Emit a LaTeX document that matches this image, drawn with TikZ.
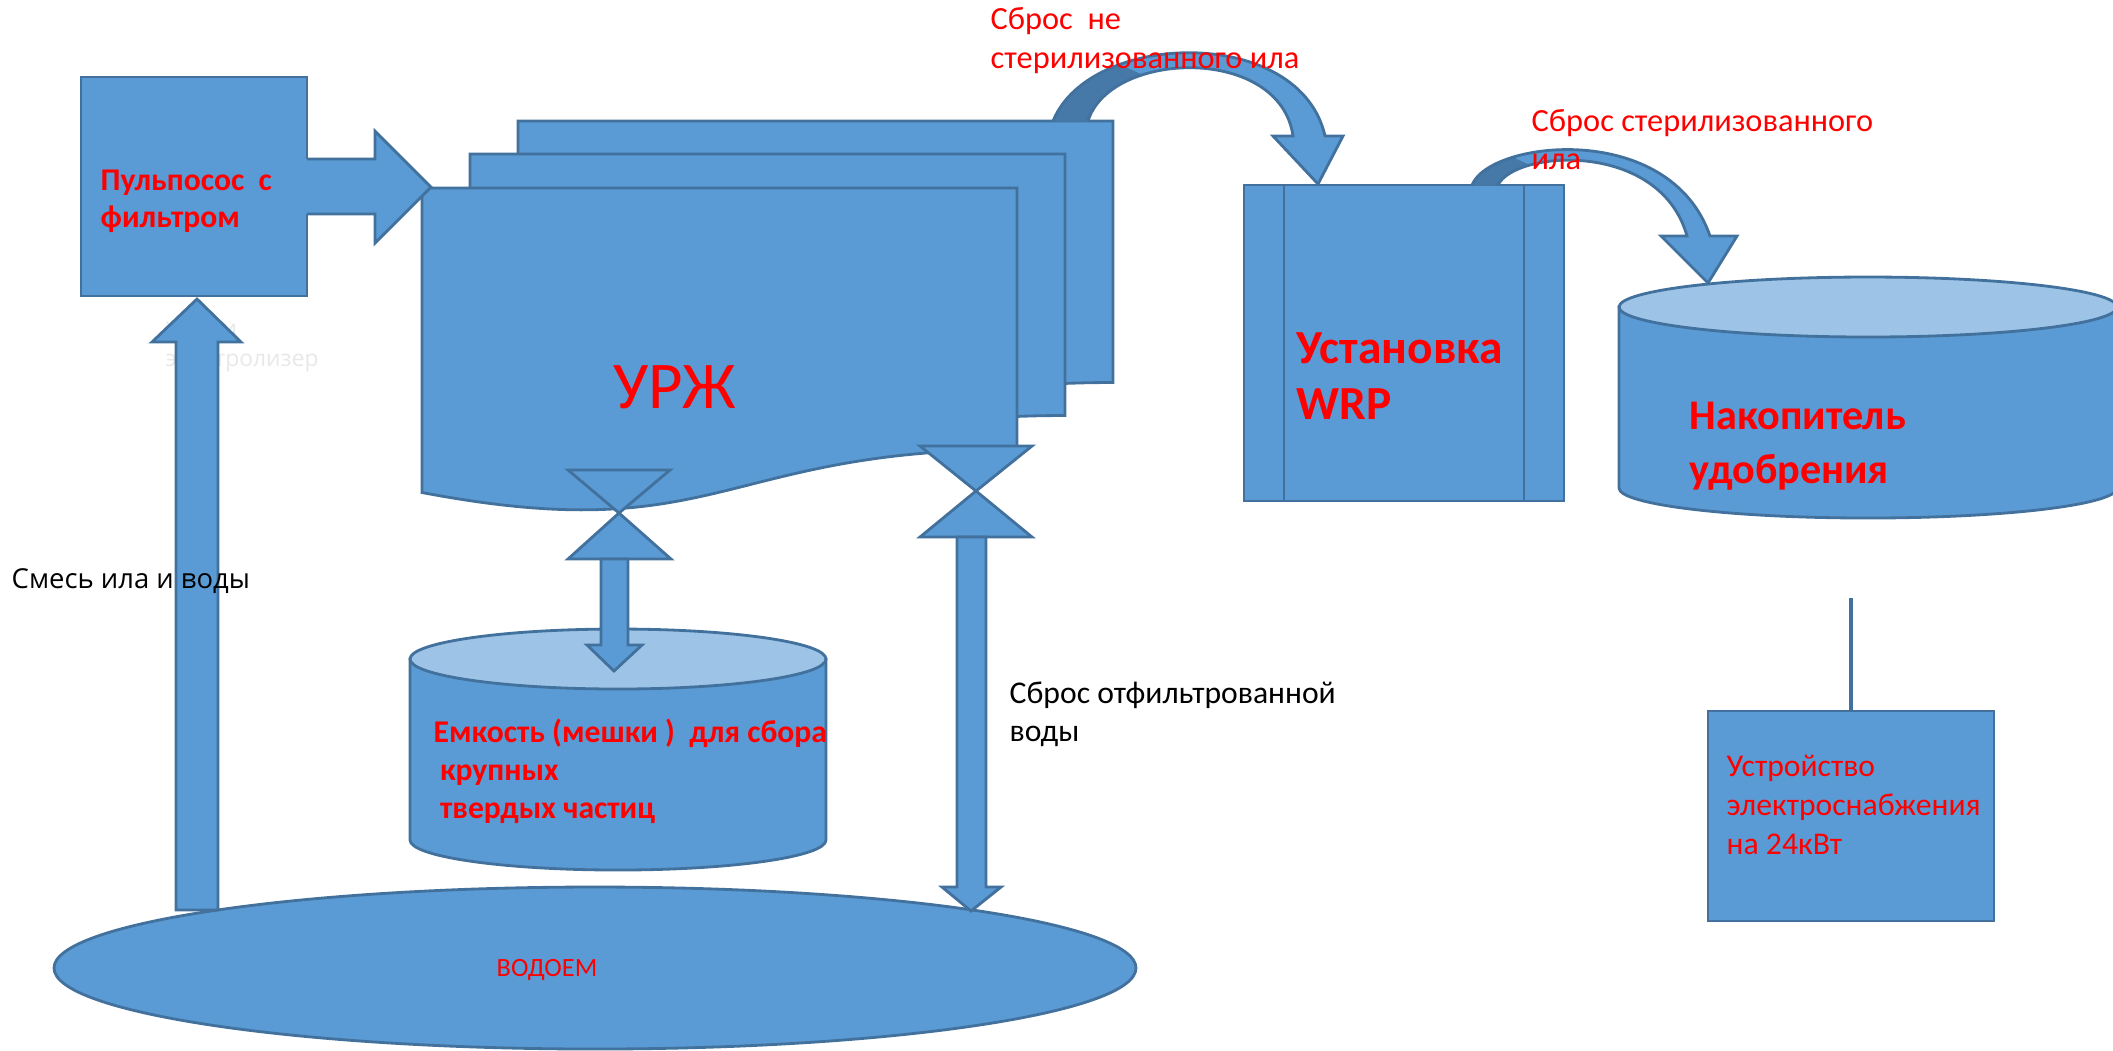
\documentclass[tikz,border=0pt]{standalone}
\usepackage{fontspec}
\setmainfont{Carlito}
\newfontfamily\widesans{Open Sans}
\definecolor{boxblue}{RGB}{91,155,213}
\definecolor{edgeblue}{RGB}{65,113,156}
\definecolor{lidblue}{RGB}{157,195,230}
\definecolor{shadeblue}{RGB}{70,121,168}
\definecolor{textred}{RGB}{255,0,0}
% one sheet of the stacked document shape, top left corner at (#1,#2)
\newcommand{\docpage}[2]{%
  \draw[blockfill] (#1,#2) -- ({#1+595},#2) -- ({#1+595},{#2+261.5})
    .. controls ({#1+297.5},{#2+261.5}) and ({#1+297.5},{#2+360.9}) .. (#1,{#2+304.5}) -- cycle;}
\begin{document}
\begin{tikzpicture}[x=0.01cm,y=-0.01cm,
    blockfill/.style={fill=boxblue,draw=edgeblue,line width=0.8pt},
    lidfill/.style={fill=lidblue,draw=edgeblue,line width=0.8pt},
    redlbl/.style={inner sep=0pt,anchor=west,align=left,text=textred},
    blacklbl/.style={inner sep=0pt,anchor=west,align=left,text=black}]
  \clip (0,0) rectangle (2113,1050);

  % faint text hidden behind the up arrow
  \node[blacklbl,text=black!9,font=\widesans\fontsize{6.5}{8}\selectfont] (ghost) at (165,363) {электролизер};
  \node[blacklbl,text=black!9,font=\widesans\fontsize{6.5}{8}\selectfont] (ghostu) at (165,330) {У};
  \node[blacklbl,text=black!9,font=\widesans\fontsize{6.5}{8}\selectfont] (ghosti) at (222,330) {и};

  % pond
  \draw[blockfill] (595,968) ellipse [x radius=541, y radius=81];

  % bag tank
  \draw[blockfill] (410,659) -- (410,840) arc [start angle=180, end angle=0, x radius=208, y radius=30] -- (826,659) -- cycle;
  \draw[lidfill] (618,659) ellipse [x radius=208, y radius=30];

  % fertiliser store
  \draw[blockfill] (1619,307) -- (1619,488) arc [start angle=180, end angle=0, x radius=249, y radius=30] -- (2117,307) -- cycle;
  \draw[lidfill] (1868,307) ellipse [x radius=249, y radius=30];

  % power supply
  \draw[blockfill] (1708,711) rectangle (1994,921);
  \draw[edgeblue,line width=1pt] (1851,598) -- (1851,711);

  % WRP unit
  \draw[blockfill] (1244,185) rectangle (1564,501);
  \draw[edgeblue,line width=0.8pt] (1284,185) -- (1284,501) (1524,185) -- (1524,501);

  % stacked URZh sheets
  \docpage{518}{121}
  \docpage{470}{154}
  \docpage{422}{188}

  % curved arrow URZh -> WRP
  \fill[boxblue] (1053,121) .. controls (1090,30) and (1300,25) .. (1325,136) -- (1343,136) -- (1318,184) -- (1273,136) -- (1293,136) .. controls (1280,45) and (1110,50) .. (1088,121) -- cycle;
  \begin{scope}
    \clip (960,0) -- (978,0) -- (1253,125) -- (960,125) -- cycle;
    \fill[shadeblue] (1053,121) .. controls (1090,30) and (1300,25) .. (1325,136) -- (1293,136) .. controls (1280,45) and (1110,50) .. (1088,121) -- cycle;
  \end{scope}
  \draw[edgeblue,line width=0.8pt] (1053,121) .. controls (1090,30) and (1300,25) .. (1325,136) -- (1343,136) -- (1318,184) -- (1273,136) -- (1293,136) .. controls (1280,45) and (1110,50) .. (1088,121);

  % curved arrow WRP -> store
  \fill[boxblue] (1472,185) .. controls (1490,140) and (1670,120) .. (1710,236) -- (1737,236) -- (1708,283) -- (1661,236) -- (1687,236) .. controls (1660,140) and (1515,150) .. (1498,185) -- cycle;
  \begin{scope}
    \clip (1350,90) -- (1372,90) -- (1603,200) -- (1350,200) -- cycle;
    \fill[shadeblue] (1472,185) .. controls (1490,140) and (1670,120) .. (1710,236) -- (1687,236) .. controls (1660,140) and (1515,150) .. (1498,185) -- cycle;
  \end{scope}
  \draw[edgeblue,line width=0.8pt] (1472,185) .. controls (1490,140) and (1670,120) .. (1710,236) -- (1737,236) -- (1708,283) -- (1661,236) -- (1687,236) .. controls (1660,140) and (1515,150) .. (1498,185);

  % pump box and its arrows
  \draw[blockfill] (81,77) rectangle (307,296);
  \fill[boxblue] (302,159) -- (375,159) -- (375,131) -- (431,187) -- (375,243) -- (375,214) -- (302,214) -- cycle;
  \draw[edgeblue,line width=0.8pt] (307,159) -- (375,159) -- (375,131) -- (431,187) -- (375,243) -- (375,214) -- (307,214);
  \draw[blockfill] (176,910) -- (176,342) -- (152,342) -- (197,299) -- (241,342) -- (218,342) -- (218,910) -- cycle;

  % valves with their outlets
  \draw[blockfill] (568,470) -- (670,470) -- (619,513) -- cycle;
  \draw[blockfill] (619,513) -- (568,559) -- (671,559) -- cycle;
  \draw[blockfill] (601,559) -- (601,645) -- (587,645) -- (614,671) -- (642,645) -- (628,645) -- (628,559) -- cycle;
  \draw[blockfill] (920,446) -- (1032,446) -- (976,491) -- cycle;
  \draw[blockfill] (976,491) -- (920,537) -- (1032,537) -- cycle;
  \draw[blockfill] (957,537) -- (957,887) -- (942,887) -- (971,911) -- (1001,887) -- (986,887) -- (986,537) -- cycle;

  % labels
  \node[redlbl,font=\bfseries\fontsize{9}{10.5}\selectfont] (pumplbl) at (100,201) {Пульпосос\ \ с\\фильтром};
  \node[redlbl,font=\fontsize{19}{22}\selectfont] (urzhlbl) at (613,387) {УРЖ};
  \node[redlbl,font=\bfseries\fontsize{9}{10.8}\selectfont] (tanklbl) at (433,771) {Емкость (мешки )\ \ для сбора\\\hspace{0.2em}крупных\\\hspace{0.2em}твердых частиц};
  \node[redlbl,font=\fontsize{7.5}{9}\selectfont] (pondlbl) at (496,970) {ВОДОЕМ};
  \node[blacklbl,font=\widesans\fontsize{7.8}{9.4}\selectfont] (mixlbl) at (11,581) {Смесь ила и воды};
  \node[redlbl,font=\fontsize{9.2}{11.1}\selectfont] (rawlbl) at (990,41) {Сброс\ \ не\\стерилизованного ила};
  \node[redlbl,font=\fontsize{9.2}{10.8}\selectfont] (sterlbl) at (1531,140) {Сброс стерилизованного\\ила};
  \node[redlbl,font=\bfseries\fontsize{13.5}{15.9}\selectfont] (wrplbl) at (1296,376) {Установка\\WRP};
  \node[redlbl,font=\bfseries\fontsize{12}{15.4}\selectfont] (storelbl) at (1689,446) {Накопитель\\удобрения};
  \node[blacklbl,font=\fontsize{9}{10.8}\selectfont] (filtlbl) at (1009,714) {Сброс отфильтрованной\\воды};
  \node[redlbl,font=\fontsize{9}{11}\selectfont] (powerlbl) at (1726,805) {Устройство\\электроснабжения\\на 24кВт};
\end{tikzpicture}
\end{document}
